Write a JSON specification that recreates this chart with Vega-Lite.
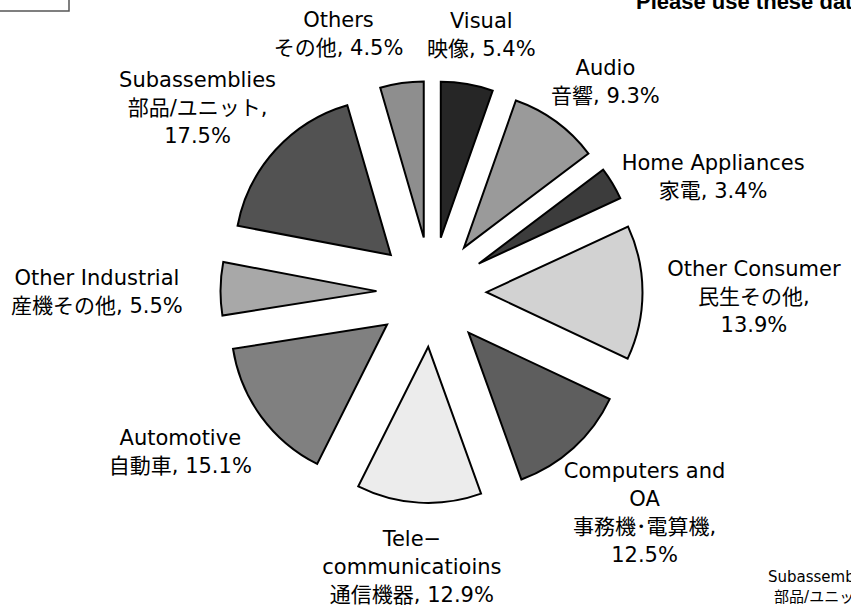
{
  "$schema": "https://vega.github.io/schema/vega-lite/v6.json",
  "width": 851,
  "height": 609,
  "padding": 0,
  "autosize": "none",
  "background": "white",
  "config": {"view": {"stroke": null}},
  "datasets": {
    "pie": [
      {"cat": "Visual", "share": 5.4, "label": ["Visual", "映像, 5.4%"]},
      {"cat": "Audio", "share": 9.3, "label": ["Audio", "音響, 9.3%"]},
      {"cat": "Home Appliances", "share": 3.4, "label": ["Home Appliances", "家電, 3.4%"]},
      {"cat": "Other Consumer", "share": 13.9, "label": ["Other Consumer", "民生その他,", "13.9%"]},
      {"cat": "Computers and OA", "share": 12.5, "label": ["Computers and", "OA", "事務機･電算機,", "12.5%"]},
      {"cat": "Telecommunications", "share": 12.9, "label": ["Tele−", "communicatioins", "通信機器, 12.9%"]},
      {"cat": "Automotive", "share": 15.1, "label": ["Automotive", "自動車, 15.1%"]},
      {"cat": "Other Industrial", "share": 5.5, "label": ["Other Industrial", "産機その他, 5.5%"]},
      {"cat": "Subassemblies", "share": 17.5, "label": ["Subassemblies", "部品/ユニット,", "17.5%"]},
      {"cat": "Others", "share": 4.5, "label": ["Others", "その他, 4.5%"]}
    ]
  },
  "layer": [
    {
      "data": {"name": "pie"},
      "transform": [{"stack": "share", "groupby": [], "as": ["s0", "s1"]}],
      "mark": {
        "type": "arc",
        "radius": 156,
        "stroke": "black",
        "strokeWidth": 2,
        "x": {"expr": "width/2 + 6 + 55*sin(PI*(datum.s0+datum.s1)/100)"},
        "y": {"expr": "height/2 - 12.5 - 55*cos(PI*(datum.s0+datum.s1)/100)"}
      },
      "encoding": {
        "theta": {"field": "s0", "type": "quantitative", "scale": {"domain": [0, 100]}},
        "theta2": {"field": "s1"},
        "color": {
          "field": "cat",
          "type": "nominal",
          "legend": null,
          "scale": {
            "domain": ["Visual", "Audio", "Home Appliances", "Other Consumer", "Computers and OA", "Telecommunications", "Automotive", "Other Industrial", "Subassemblies", "Others"],
            "range": ["#262626", "#9a9a9a", "#3c3c3c", "#d2d2d2", "#5e5e5e", "#ececec", "#808080", "#a8a8a8", "#525252", "#8e8e8e"]
          }
        }
      }
    },
    {
      "data": {"name": "pie"},
      "transform": [{"stack": "share", "groupby": [], "as": ["s0", "s1"]}],
      "mark": {
        "type": "text",
        "align": "center",
        "baseline": "middle",
        "font": "DejaVu Sans, Noto Sans CJK JP",
        "fontSize": 21,
        "lineHeight": 28,
        "color": "black",
        "x": {"expr": "width/2 + 6 + (237 + max(12.2*length(datum.label[0]||'') + 8.8*(length(datum.label[0]||'') - length(replace(datum.label[0]||'', regexp('[^ -~]','g'), ''))), 12.2*length(datum.label[1]||'') + 8.8*(length(datum.label[1]||'') - length(replace(datum.label[1]||'', regexp('[^ -~]','g'), ''))), 12.2*length(datum.label[2]||'') + 8.8*(length(datum.label[2]||'') - length(replace(datum.label[2]||'', regexp('[^ -~]','g'), ''))), 12.2*length(datum.label[3]||'') + 8.8*(length(datum.label[3]||'') - length(replace(datum.label[3]||'', regexp('[^ -~]','g'), ''))))/2) * sin(PI*(datum.s0+datum.s1)/100) + (datum.cat === 'Others' ? -50 : 0)"},
        "y": {"expr": "height/2 - 12.5 + 5 - (237 + 14*length(datum.label)) * cos(PI*(datum.s0+datum.s1)/100) - 14*(length(datum.label) - 1) + (datum.cat === 'Home Appliances' ? 17 : datum.cat === 'Telecommunications' ? -8 : 0)"}
      },
      "encoding": {"text": {"field": "label"}}
    },
    {
      "data": {"values": [{"t": "Please use these data"}]},
      "mark": {
        "type": "text",
        "align": "left",
        "baseline": "alphabetic",
        "font": "Liberation Sans",
        "fontSize": 22,
        "fontWeight": "bold",
        "color": "black",
        "x": 636,
        "y": 9
      },
      "encoding": {"text": {"field": "t"}}
    },
    {
      "data": {"values": [{"t": ["Subassemblies", "部品/ユニット,", "17.5%"]}]},
      "mark": {
        "type": "text",
        "align": "center",
        "baseline": "alphabetic",
        "font": "DejaVu Sans, Noto Sans CJK JP",
        "fontSize": 15,
        "lineHeight": 20,
        "color": "black",
        "x": 824,
        "y": 582
      },
      "encoding": {"text": {"field": "t"}}
    },
    {
      "data": {"values": [{}]},
      "mark": {"type": "rect", "x": -5, "y": -5, "x2": 69, "y2": 11, "fill": "transparent", "stroke": "#555555", "strokeWidth": 1.5},
      "encoding": {}
    }
  ]
}
